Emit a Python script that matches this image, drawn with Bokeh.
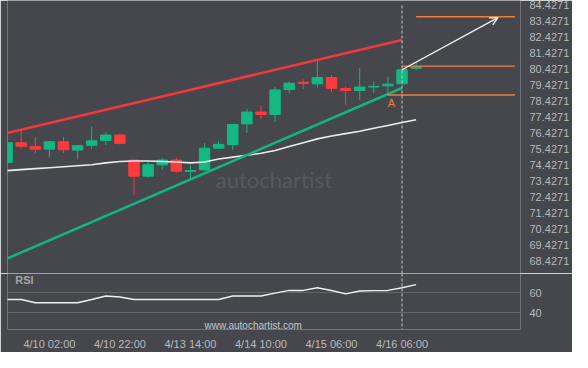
from bokeh.plotting import figure
from bokeh.layouts import column
from bokeh.models import Range1d, FixedTicker, Span, Arrow, OpenHead, ColumnDataSource
from bokeh.core.properties import value
from bokeh.embed import file_html
from bokeh.resources import INLINE

# ---------------- data ----------------
idx    = list(range(30))
opens  = [74.60, 75.84, 75.60, 75.44, 75.90, 75.38, 75.68, 75.98, 76.32, 74.76,
          73.75, 74.46, 74.76, 74.04, 74.14, 75.50, 75.72, 77.02, 77.76, 77.60,
          79.16, 79.62, 79.52, 79.92, 79.22, 79.10, 79.32, 79.40, 79.52, 80.50]
closes = [75.84, 75.62, 75.44, 75.90, 75.40, 75.66, 75.96, 76.32, 75.80, 73.75,
          74.46, 74.76, 74.06, 74.10, 75.50, 75.74, 76.98, 77.76, 77.60, 79.14,
          79.56, 79.54, 79.92, 79.24, 79.10, 79.32, 79.36, 79.50, 80.40, 80.57]
highs  = [75.85, 76.60, 76.20, 75.96, 76.20, 75.66, 76.86, 76.50, 76.38, 74.76,
          74.76, 74.90, 74.90, 74.46, 75.82, 75.96, 77.02, 77.94, 78.16, 79.32,
          79.66, 79.80, 81.00, 80.06, 79.36, 80.50, 79.66, 79.96, 80.40, 80.87]
lows   = [74.55, 75.52, 75.16, 74.92, 75.20, 74.80, 75.46, 75.70, 75.72, 72.55,
          73.66, 74.16, 73.96, 73.56, 74.10, 75.46, 75.42, 76.46, 77.32, 77.14,
          78.92, 79.20, 79.30, 79.00, 78.22, 78.52, 78.96, 78.80, 79.52, 80.36]
ma     = [74.10, 74.16, 74.22, 74.28, 74.34, 74.40, 74.46, 74.58, 74.67, 74.70,
          74.70, 74.67, 74.64, 74.58, 74.64, 74.82, 74.94, 75.06, 75.18, 75.36,
          75.60, 75.84, 76.08, 76.26, 76.41, 76.56, 76.74, 76.92, 77.10, 77.28]
rsi    = [53.3, 53.3, 50.0, 50.0, 50.0, 50.0, 53.3, 56.7, 55.8, 53.3,
          53.3, 53.3, 53.3, 53.3, 53.3, 53.3, 56.7, 56.7, 56.7, 59.6,
          62.3, 62.3, 65.0, 62.2, 58.9, 61.7, 62.1, 62.3, 65.0, 68.1]

resist_x = [0, 28]
resist_y = [76.45, 82.265]
support_x = [0, 28]
support_y = [68.60, 79.26]

level_x0 = [29, 28, 27]
level_x1 = [36, 36, 36]
level_y  = [83.71, 80.625, 78.82]

arrow_start = (28, 80.40)
arrow_end   = (34.8, 83.66)
signal_x = 28
signal_top = 84.4271
point_a = (27.25, 78.33)

price_ticks = [68.4271, 69.4271, 70.4271, 71.4271, 72.4271, 73.4271, 74.4271,
               75.4271, 76.4271, 77.4271, 78.4271, 79.4271, 80.4271, 81.4271,
               82.4271, 83.4271, 84.4271]
rsi_ticks = [40, 60]
time_ticks = [3, 8, 13, 18, 23, 28]
time_labels = ["4/10 02:00", "4/10 22:00", "4/13 14:00", "4/14 10:00",
               "4/15 06:00", "4/16 06:00"]

# ---------------- styles ----------------
BG = "#45474c"
UP = "#13b883"
DN = "#fe3a3d"
ORANGE = "#f47d3c"
TXT = "#b8babe"
FONT = "Liberation Sans"
PRICE_LO, PRICE_HI = 67.67, 84.727

x_range = Range1d(0.03, 36.4)

p = figure(width=572, height=273, x_range=x_range, y_range=Range1d(PRICE_LO, PRICE_HI),
           output_backend="svg", toolbar_location=None, x_axis_location=None,
           y_axis_location="right", min_border_left=7, min_border_right=44,
           min_border_top=0, min_border_bottom=0,
           background_fill_color=BG, border_fill_color=BG, outline_line_color=None)
p.grid.visible = False

up = [i for i in idx if closes[i] >= opens[i]]
dn = [i for i in idx if closes[i] < opens[i]]

def src(ids):
    return ColumnDataSource(dict(
        x=[idx[i] for i in ids],
        top=[max(opens[i], closes[i]) for i in ids],
        bottom=[min(opens[i], closes[i]) for i in ids],
        hi=[highs[i] for i in ids],
        lo=[lows[i] for i in ids]))

# watermark
p.text(x=[14.8], y=[73.56], text=["autochartist"], text_color="#5a5d63",
       text_font=value("Lato"), text_font_size="22px", text_baseline="middle",
       text_alpha=0.85)

for ids, col in ((up, UP), (dn, DN)):
    s = src(ids)
    p.segment(x0="x", x1="x", y0="lo", y1="hi", source=s, line_color=col, line_width=1)
    p.vbar(x="x", width=0.74, top="top", bottom="bottom", source=s,
           fill_color=col, line_color=col, line_width=1)

p.line(idx, ma, line_color="#ececec", line_width=1.6)
p.line(resist_x, resist_y, line_color="#f2383b", line_width=2.6)
p.line(support_x, support_y, line_color="#14b47f", line_width=2.6)

p.segment(x0=level_x0, x1=level_x1, y0=level_y, y1=level_y, line_color=ORANGE,
          line_width=1.4)

p.segment(x0=[signal_x], x1=[signal_x], y0=[PRICE_LO], y1=[signal_top],
          line_color="#c9cacc", line_width=1, line_dash="3 2")
p.add_layout(Arrow(end=OpenHead(size=8, line_color="#f2f2f2", line_width=1.4),
                   x_start=arrow_start[0], y_start=arrow_start[1],
                   x_end=arrow_end[0], y_end=arrow_end[1],
                   line_color="#f2f2f2", line_width=1.4))
p.text(x=[point_a[0]], y=[point_a[1]], text=["A"], text_color=ORANGE,
       text_font=value(FONT), text_font_size="11px", text_align="center",
       text_baseline="middle")

ya = p.yaxis[0]
ya.ticker = FixedTicker(ticks=price_ticks)
ya.major_label_overrides = {t: f"{t:.4f}" for t in price_ticks}
ya.axis_line_color = None
ya.major_tick_line_color = None
ya.minor_tick_line_color = None
ya.major_label_standoff = 3
ya.major_label_text_color = TXT
ya.major_label_text_font = FONT
ya.major_label_text_font_size = "11px"

# ---------------- RSI panel ----------------
r = figure(width=572, height=79, x_range=x_range, y_range=Range1d(23.3, 79.2),
           output_backend="svg", toolbar_location=None, y_axis_location="right",
           min_border_left=7, min_border_right=44, min_border_top=0, min_border_bottom=0,
           background_fill_color=BG, border_fill_color=BG, outline_line_color=None)
r.xgrid.visible = False
r.ygrid.ticker = FixedTicker(ticks=rsi_ticks)
r.ygrid.grid_line_color = "#62656a"
r.ygrid.grid_line_width = 1

r.line(idx, rsi, line_color="#f0f0f0", line_width=1.4)
r.add_layout(Span(location=signal_x, dimension="height", line_color="#c9cacc",
                  line_width=1, line_dash="3 2"))
r.text(x=[0.58], y=[72.5], text=["RSI"], text_color="#a3a6ab",
       text_font=value(FONT), text_font_size="11px", text_font_style="bold",
       text_baseline="middle")
r.text(x=[14.0], y=[27.5], text=["www.autochartist.com"], text_color="#c4c6c9",
       text_font=value(FONT), text_font_size="10px", text_baseline="middle")

ry = r.yaxis[0]
ry.ticker = FixedTicker(ticks=rsi_ticks)
ry.axis_line_color = None
ry.major_tick_line_color = None
ry.minor_tick_line_color = None
ry.major_label_standoff = 3
ry.major_label_text_color = TXT
ry.major_label_text_font = FONT
ry.major_label_text_font_size = "11px"

rx = r.xaxis[0]
rx.ticker = FixedTicker(ticks=time_ticks)
rx.major_label_overrides = dict(zip(time_ticks, time_labels))
rx.axis_line_color = None
rx.major_tick_line_color = None
rx.minor_tick_line_color = None
rx.major_label_standoff = 2
rx.major_label_text_color = TXT
rx.major_label_text_font = FONT
rx.major_label_text_font_size = "11px"

layout = column(p, r, spacing=0)
open("out.html", "w").write(file_html(layout, INLINE))
